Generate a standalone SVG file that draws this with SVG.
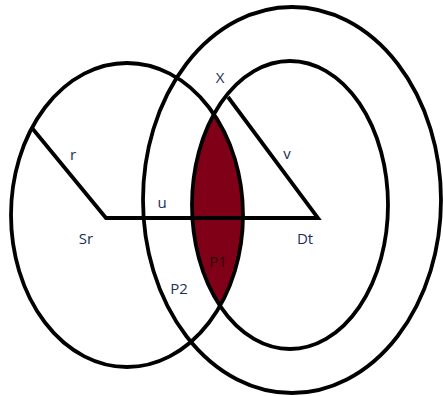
<svg xmlns="http://www.w3.org/2000/svg" width="443" height="396" viewBox="0 0 443 396">
<style>
.sh{fill:none;stroke:#000;stroke-width:3.8}
.ln{fill:none;stroke:#000;stroke-width:3.8;stroke-linejoin:miter}
.lb{font-family:"Open Sans","Liberation Sans",sans-serif;font-size:15px;fill:#1a2f5a;text-anchor:middle}
.p1{font-family:"Open Sans","Liberation Sans",sans-serif;font-size:15px;fill:#2a0008;text-anchor:middle}
</style>
<defs>
<clipPath id="clipL"><ellipse cx="127" cy="215" rx="116" ry="152"/></clipPath>
</defs>
<rect width="443" height="396" fill="#fff"/>
<g id="lens">
<ellipse cx="290" cy="204" rx="98" ry="144" fill="#800018" clip-path="url(#clipL)"/>
</g>
<g id="source-circle">
<ellipse class="sh" cx="127" cy="215" rx="116" ry="152"/>
</g>
<g id="dest-inner">
<ellipse class="sh" cx="290" cy="205" rx="98" ry="144"/>
</g>
<g id="dest-outer">
<ellipse class="sh" cx="292" cy="200" rx="149" ry="193"/>
</g>
<g id="connectors">
<polyline class="ln" points="32,128 106,218 318,218 228,97"/>
</g>
<g id="labels">
<text class="lb" x="220" y="83">X</text>
<text class="lb" x="73" y="160">r</text>
<text class="lb" x="287" y="159">v</text>
<text class="lb" x="162" y="208">u</text>
<text class="lb" x="86" y="244">Sr</text>
<text class="lb" x="305" y="244">Dt</text>
<text class="lb" x="179" y="294">P2</text>
<text class="p1" x="218" y="267">P1</text>
</g>
</svg>
